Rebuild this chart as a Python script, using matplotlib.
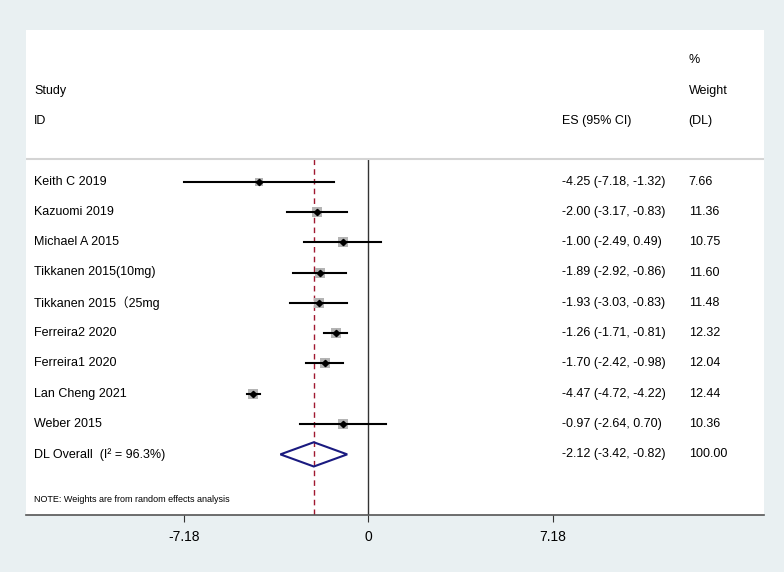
import numpy as np
import matplotlib
matplotlib.use("Agg")
import matplotlib.pyplot as plt
from matplotlib.patches import Polygon
import matplotlib.transforms as mtransforms

# === DATA ===
studies = ["Keith C 2019", "Kazuomi 2019", "Michael A 2015", "Tikkanen 2015(10mg)",
           "Tikkanen 2015\uff0825mg", "Ferreira2 2020", "Ferreira1 2020",
           "Lan Cheng 2021", "Weber 2015"]
es = [-4.25, -2.00, -1.00, -1.89, -1.93, -1.26, -1.70, -4.47, -0.97]
lo = [-7.18, -3.17, -2.49, -2.92, -3.03, -1.71, -2.42, -4.72, -2.64]
hi = [-1.32, -0.83, 0.49, -0.86, -0.83, -0.81, -0.98, -4.22, 0.70]
weights = [7.66, 11.36, 10.75, 11.60, 11.48, 12.32, 12.04, 12.44, 10.36]

overall_es, overall_lo, overall_hi = -2.12, -3.42, -0.82
overall_weight = 100.00
overall_i2 = 96.3
xticks = [-7.18, 0, 7.18]

BG = "#e9f0f2"
FONT = ["Liberation Sans", "Noto Sans CJK SC", "DejaVu Sans"]
plt.rcParams["font.family"] = FONT

fig = plt.figure(figsize=(7.84, 5.72), dpi=100, facecolor=BG)
ax = fig.add_axes([26 / 784, (572 - 515) / 572, 738 / 784, 485 / 572])
ax.set_facecolor("white")
ax.set_xlim(-13.32, 15.40)
ax.set_ylim(12.0, -4.0)

rows = np.arange(1, len(studies) + 1)
overall_row = len(studies) + 1

# reference lines
ax.plot([0, 0], [0.25, 12.0], color="#333333", lw=1.0, zorder=1)
ax.plot([overall_es, overall_es], [0.25, 12.0], color="#a01830", lw=1.0,
        ls=(0, (4, 3)), zorder=1)
ax.axhline(0.25, color="#d4d4d4", lw=1.5, zorder=1)

# study rows
for r, e, l, h, w in zip(rows, es, lo, hi, weights):
    ax.plot([l, h], [r, r], color="black", lw=1.5, zorder=3)
    ax.scatter([e], [r], s=4.6 * w, marker="s", color="#b4b4b4", lw=0, zorder=2)
    ax.plot([e], [r], marker="D", ms=3.2, color="black", zorder=4)

# overall diamond
diamond = Polygon([[overall_lo, overall_row], [overall_es, overall_row - 0.4],
                   [overall_hi, overall_row], [overall_es, overall_row + 0.4]],
                  closed=True, fill=False, edgecolor="#1a1a80", lw=1.5, zorder=3)
ax.add_patch(diamond)

# text columns
tr = mtransforms.blended_transform_factory(ax.transAxes, ax.transData)
x_lab, x_es, x_w = 0.011, 0.726, 0.898
fs = 9
ax.text(x_lab, -2, "Study", transform=tr, fontsize=fs, va="center")
ax.text(x_lab, -1, "ID", transform=tr, fontsize=fs, va="center")
ax.text(x_es, -1, "ES (95% CI)", transform=tr, fontsize=fs, va="center")
ax.text(x_w, -3, "%", transform=tr, fontsize=fs, va="center")
ax.text(x_w, -2, "Weight", transform=tr, fontsize=fs, va="center")
ax.text(x_w, -1, "(DL)", transform=tr, fontsize=fs, va="center")

for r, s, e, l, h, w in zip(rows, studies, es, lo, hi, weights):
    ax.text(x_lab, r, s, transform=tr, fontsize=fs, va="center")
    ax.text(x_es, r, f"{e:.2f} ({l:.2f}, {h:.2f})", transform=tr, fontsize=fs, va="center")
    ax.text(x_w, r, f"{w:.2f}", transform=tr, fontsize=fs, va="center")

ax.text(x_lab, overall_row, f"DL Overall  (I\u00b2 = {overall_i2}%)", transform=tr,
        fontsize=fs, va="center")
ax.text(x_es, overall_row,
        f"{overall_es:.2f} ({overall_lo:.2f}, {overall_hi:.2f})", transform=tr,
        fontsize=fs, va="center")
ax.text(x_w, overall_row, f"{overall_weight:.2f}", transform=tr, fontsize=fs, va="center")
ax.text(x_lab, 11.5, "NOTE: Weights are from random effects analysis", transform=tr,
        fontsize=6.5, va="center")

# axes styling
for sp in ["top", "left", "right"]:
    ax.spines[sp].set_visible(False)
ax.spines["bottom"].set_color("#555555")
ax.spines["bottom"].set_linewidth(1.2)
ax.set_yticks([])
ax.set_xticks(xticks)
ax.set_xticklabels(["-7.18", "0", "7.18"], fontsize=10)
ax.tick_params(axis="x", direction="out", length=5, color="#333333", pad=6)

fig.savefig("out.png", dpi=100, facecolor=BG)
